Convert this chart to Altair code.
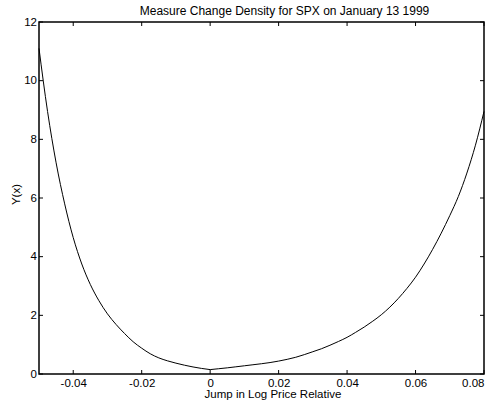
import altair as alt
import pandas as pd

# Measure change density Y(x) against the jump in log price relative,
# split into the negative-jump branch and the positive-jump branch
jump_neg = [
    -0.05, -0.0475, -0.045, -0.0425, -0.04, -0.0375, -0.035, -0.0325, -0.03,
    -0.0275, -0.025, -0.0225, -0.02, -0.0175, -0.015, -0.0125, -0.01, -0.0075,
    -0.005, -0.0025, 0.0,
]
density_neg = [
    11.1, 8.95, 7.2, 5.8, 4.65, 3.75, 3.05, 2.5, 2.05,
    1.69, 1.38, 1.1, 0.88, 0.69, 0.55, 0.45, 0.37, 0.3,
    0.24, 0.19, 0.15,
]
jump_pos = [
    0.0, 0.0025, 0.005, 0.0075, 0.01, 0.0125, 0.015, 0.0175, 0.02, 0.0225,
    0.025, 0.0275, 0.03, 0.0325, 0.035, 0.0375, 0.04, 0.0425, 0.045, 0.0475,
    0.05, 0.0525, 0.055, 0.0575, 0.06, 0.0625, 0.065, 0.0675, 0.07, 0.0725,
    0.075, 0.0775, 0.08,
]
density_pos = [
    0.15, 0.18, 0.21, 0.245, 0.28, 0.315, 0.35, 0.39, 0.44, 0.5,
    0.57, 0.66, 0.76, 0.86, 0.98, 1.11, 1.25, 1.42, 1.6, 1.8,
    2.02, 2.28, 2.58, 2.92, 3.3, 3.75, 4.25, 4.8, 5.4, 6.05,
    6.85, 7.8, 8.95,
]

title_text = "Measure Change Density for SPX on January 13 1999"
x_ticks = [-0.04, -0.02, 0.0, 0.02, 0.04, 0.06, 0.08]
y_ticks = [0, 2, 4, 6, 8, 10, 12]
x_domain = [-0.05, 0.08]
y_domain = [0, 12]

W, H = 445, 352
TICK_PX = 4
FONT = "Liberation Sans"

dx_tick = TICK_PX / W * (x_domain[1] - x_domain[0])
dy_tick = TICK_PX / H * (y_domain[1] - y_domain[0])

curve = pd.concat([
    pd.DataFrame({"x": jump_neg, "y": density_neg, "branch": "neg"}),
    pd.DataFrame({"x": jump_pos, "y": density_pos, "branch": "pos"}),
])

x_scale = alt.Scale(domain=x_domain, nice=False, zero=False)
y_scale = alt.Scale(domain=y_domain, nice=False, zero=False)

x_axis = alt.Axis(
    values=x_ticks,
    labelExpr="toString(round(datum.value*100)/100)",
    ticks=False, tickSize=0, domain=False, grid=False,
    labelPadding=3, labelFont=FONT, labelFontSize=11.5, labelColor="black",
    title="Jump in Log Price Relative", titleFont=FONT, titleFontSize=11.5,
    titleFontWeight="normal", titleColor="black",
    titleX=W / 2 + 11, titleY=23, titleBaseline="alphabetic", titleAlign="center",
)
y_axis = alt.Axis(
    values=y_ticks,
    ticks=False, tickSize=0, domain=False, grid=False,
    labelPadding=2.5, labelFont=FONT, labelFontSize=11.5, labelColor="black",
    title="Y(x)", titleFont=FONT, titleFontSize=11.5,
    titleFontWeight="normal", titleColor="black",
    titleAngle=270, titleX=-20, titleY=H / 2 - 4, titleBaseline="alphabetic",
    titleAlign="center",
)

line = alt.Chart(curve).mark_line(
    color="black", strokeWidth=1, interpolate="monotone"
).encode(
    x=alt.X("x:Q", scale=x_scale, axis=x_axis),
    y=alt.Y("y:Q", scale=y_scale, axis=y_axis),
    detail="branch:N",
)

# Inward-pointing tick marks on all four sides of the box
xt = pd.DataFrame({"x": x_ticks})
yt = pd.DataFrame({"y": y_ticks})

bottom_ticks = alt.Chart(xt).transform_calculate(
    y0="0", y1=str(y_domain[0] + dy_tick)
).mark_rule(color="black", strokeWidth=1).encode(
    x=alt.X("x:Q", scale=x_scale), y="y0:Q", y2="y1:Q"
)
top_ticks = alt.Chart(xt).transform_calculate(
    y0=str(y_domain[1]), y1=str(y_domain[1] - dy_tick)
).mark_rule(color="black", strokeWidth=1).encode(
    x=alt.X("x:Q", scale=x_scale), y="y0:Q", y2="y1:Q"
)
left_ticks = alt.Chart(yt).transform_calculate(
    x0=str(x_domain[0]), x1=str(x_domain[0] + dx_tick)
).mark_rule(color="black", strokeWidth=1).encode(
    y=alt.Y("y:Q", scale=y_scale), x="x0:Q", x2="x1:Q"
)
right_ticks = alt.Chart(yt).transform_calculate(
    x0=str(x_domain[1]), x1=str(x_domain[1] - dx_tick)
).mark_rule(color="black", strokeWidth=1).encode(
    y=alt.Y("y:Q", scale=y_scale), x="x0:Q", x2="x1:Q"
)

# Chart heading, set just above the top edge of the box
heading = alt.Chart(pd.DataFrame({"t": [title_text]})).mark_text(
    font=FONT, fontSize=12, color="black", align="center",
    baseline="alphabetic",
).encode(
    text="t:N",
    x=alt.value(W / 2 + 23),
    y=alt.value(-7),
)

chart = alt.layer(
    line, bottom_ticks, top_ticks, left_ticks, right_ticks, heading
).properties(
    width=W,
    height=H,
    autosize=alt.AutoSizeParams(type="none"),
    padding={"left": 39, "top": 22, "right": 15, "bottom": 30},
    background="white",
).configure_view(stroke="black", strokeWidth=1.5)

chart.save("out.html", embed_options={"renderer": "svg", "actions": False})
